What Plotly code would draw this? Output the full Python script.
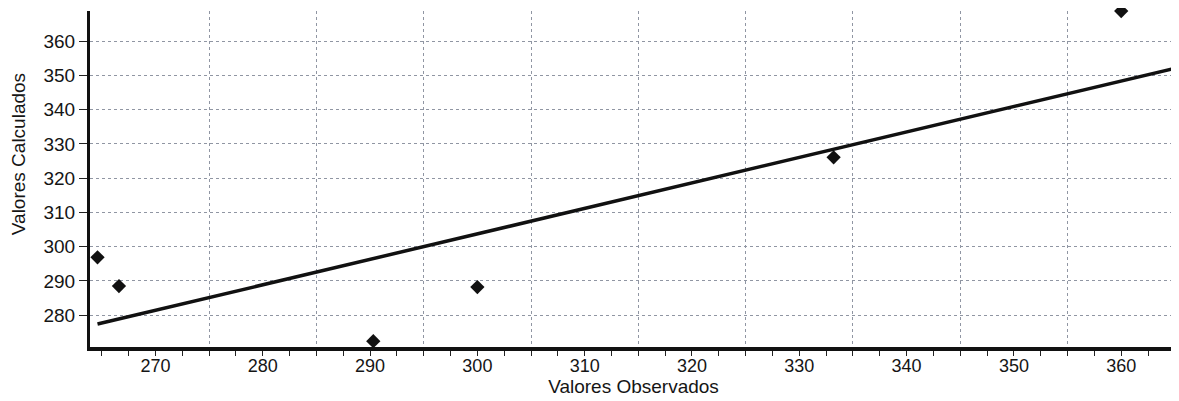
import plotly.graph_objects as go

observed = [264.6, 266.6, 290.3, 300.0, 333.2, 360.0]
calculated = [296.9, 288.5, 272.4, 288.2, 326.1, 368.8]

# Fitted line end points
fit_x = [264.6, 365.0]
fit_y = [277.4, 352.1]

x_ticks = [270, 280, 290, 300, 310, 320, 330, 340, 350, 360]
y_ticks = [280, 290, 300, 310, 320, 330, 340, 350, 360]
x_grid = [275, 285, 295, 305, 315, 325, 335, 345, 355, 365]

X_RANGE = [263.9, 365.2]
Y_RANGE = [270.7, 368.82]

font_family = "Liberation Sans, Arial, sans-serif"
grid_color = "#9096a3"

fig = go.Figure()

fig.add_trace(go.Scatter(
    x=fit_x, y=fit_y, mode="lines",
    line=dict(color="#111111", width=3.5),
    hoverinfo="skip", showlegend=False,
))
fig.add_trace(go.Scatter(
    x=observed, y=calculated, mode="markers",
    marker=dict(symbol="diamond", size=11, color="#111111"),
    cliponaxis=False, showlegend=False,
))
# invisible trace to carry the secondary x axis (vertical grid lines)
fig.add_trace(go.Scatter(
    x=[X_RANGE[0]], y=[Y_RANGE[0]], xaxis="x2", mode="markers",
    marker=dict(opacity=0), hoverinfo="skip", showlegend=False,
))

fig.update_layout(
    width=1171, height=393,
    margin=dict(l=82, r=2, t=3, b=54, autoexpand=False),
    paper_bgcolor="white", plot_bgcolor="white",
    font=dict(family=font_family, color="#151515"),
    xaxis=dict(
        range=X_RANGE,
        tickmode="array", tickvals=x_ticks,
        ticks="outside", ticklen=3, tickcolor="#222", tickwidth=1,
        tickfont=dict(size=18), ticklabelstandoff=-4,
        showgrid=False, zeroline=False,
        showline=True, linecolor="#111111", linewidth=4,
        minor=dict(dtick=2.5, tick0=265, ticks="outside", ticklen=5,
                   tickcolor="#222", showgrid=False),
        title=dict(text="Valores Observados", font=dict(size=19), standoff=1),
        automargin=False,
    ),
    xaxis2=dict(
        overlaying="x", matches="x", anchor="y", side="bottom",
        range=X_RANGE,
        tickmode="array", tickvals=x_grid,
        showticklabels=False, ticks="",
        showgrid=True, gridcolor=grid_color, griddash="dot", gridwidth=1,
        zeroline=False, showline=False,
    ),
    yaxis=dict(
        range=Y_RANGE,
        tickmode="array", tickvals=y_ticks,
        ticks="outside", ticklen=8, tickcolor="#222", tickwidth=1,
        tickfont=dict(size=19),
        showgrid=True, gridcolor=grid_color, griddash="dot", gridwidth=1,
        zeroline=False,
        showline=True, linecolor="#111111", linewidth=3,
        automargin=False,
    ),
    annotations=[dict(
        text="Valores Calculados", textangle=-90,
        xref="paper", yref="paper", x=-0.0662, y=0.574,
        xanchor="center", yanchor="middle", showarrow=False,
        font=dict(size=19, family=font_family, color="#151515"),
    )],
)

fig.write_html("out.html")
